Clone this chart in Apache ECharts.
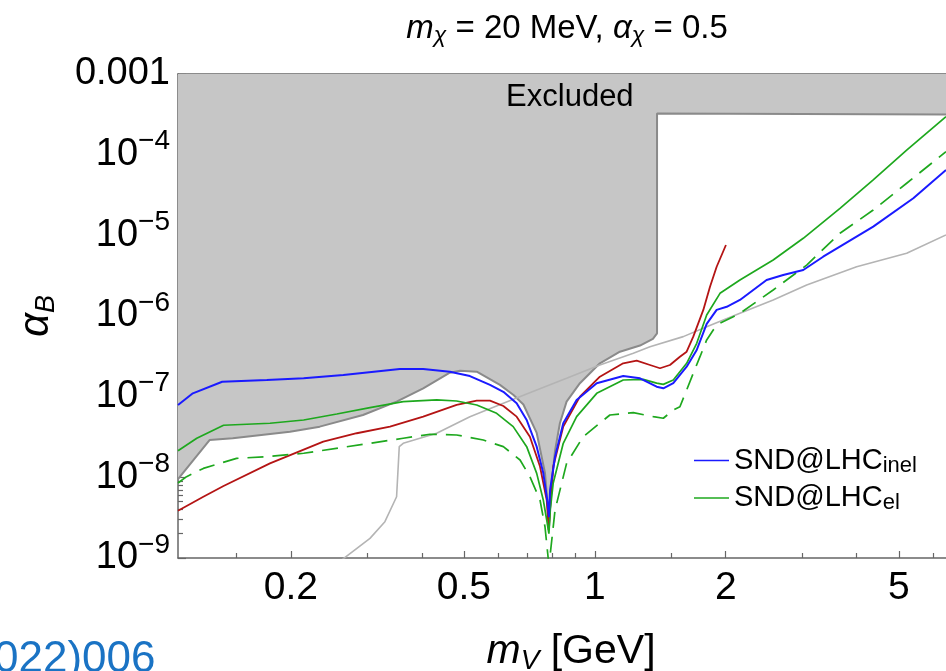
<!DOCTYPE html>
<html>
<head>
<meta charset="utf-8">
<script src="https://cdn.jsdelivr.net/npm/echarts@6/dist/echarts.min.js"></script>
<style>
  html, body { margin: 0; padding: 0; background: #ffffff; }
  #chart { width: 946px; height: 671px; }
</style>
</head>
<body>
<div id="chart"></div>
<script>
const FONT = '"Liberation Sans", Arial, Helvetica, sans-serif';

// Axis ranges: m_V in GeV (x), alpha_B (y), both logarithmic
const xRange = [0.11, 6.42];
const yRange = [1e-9, 1e-3];
const xMajorTicks = [0.2, 0.5, 1, 2, 5];
const xMinorTicks = [0.15, 0.3, 0.4, 0.6, 0.7, 0.8, 0.9, 1.5, 3, 4, 6];
const yMajorTicks = [1e-9, 1e-8, 1e-7, 1e-6, 1e-5, 1e-4, 1e-3];
const yMinorSteps = [2, 3, 4, 5, 6, 7, 8, 9];

// Lower edge of the excluded (shaded) region
const excludedEdge = [
  [0.110, 9.5e-9], [0.130, 2.9e-8], [0.147, 3.05e-8], [0.199, 3.68e-8], [0.233, 4.25e-8],
  [0.293, 5.93e-8], [0.350, 8.67e-8], [0.403, 1.27e-7], [0.464, 1.98e-7], [0.490, 2.10e-7],
  [0.535, 2.04e-7], [0.605, 1.40e-7], [0.650, 1.05e-7], [0.685, 8.0e-8], [0.735, 3.55e-8],
  [0.768, 1.13e-8], [0.779, 4.5e-9], [0.785, 2.5e-9], [0.791, 5.5e-9], [0.797, 9.3e-9],
  [0.810, 2.14e-8], [0.831, 4.68e-8], [0.861, 8.67e-8], [0.924, 1.47e-7], [1.027, 2.59e-7],
  [1.142, 3.61e-7], [1.27, 4.3e-7], [1.36, 5.2e-7], [1.39, 6.1e-7], [1.39, 3.24e-4],
  [6.42, 3.15e-4]
];

// SND@LHC, inelastic signature (blue)
const sndInel = [
  [0.110, 7.9e-8], [0.119, 1.10e-7], [0.139, 1.53e-7], [0.176, 1.61e-7], [0.214, 1.69e-7],
  [0.264, 1.86e-7], [0.356, 2.21e-7], [0.403, 2.21e-7], [0.464, 2.04e-7], [0.516, 1.80e-7],
  [0.574, 1.40e-7], [0.616, 1.15e-7], [0.661, 8.28e-8], [0.697, 5.14e-8], [0.735, 2.40e-8],
  [0.761, 1.13e-8], [0.778, 5.0e-9], [0.784, 3.2e-9], [0.789, 6.97e-9], [0.810, 1.80e-8],
  [0.846, 4.68e-8], [0.908, 9.10e-8], [1.010, 1.47e-7], [1.162, 1.80e-7], [1.270, 1.69e-7],
  [1.387, 1.33e-7], [1.437, 1.27e-7], [1.515, 1.47e-7], [1.626, 2.35e-7], [1.715, 3.79e-7],
  [1.808, 8.0e-7], [1.906, 1.19e-6], [2.010, 1.30e-6], [2.156, 1.58e-6], [2.483, 2.79e-6],
  [2.711, 3.22e-6], [3.015, 3.72e-6], [3.350, 5.43e-6], [4.367, 1.28e-5], [5.400, 2.88e-5],
  [6.42, 6.46e-5]
];

// SND@LHC, elastic signature (green, solid)
const sndEl = [
  [0.110, 2.14e-8], [0.1215, 3.05e-8], [0.140, 4.42e-8], [0.179, 4.68e-8], [0.214, 5.14e-8],
  [0.255, 6.10e-8], [0.304, 7.30e-8], [0.3625, 8.67e-8], [0.433, 9.10e-8], [0.481, 8.84e-8],
  [0.535, 7.89e-8], [0.5945, 6.22e-8], [0.649, 4.25e-8], [0.697, 2.40e-8], [0.735, 1.12e-8],
  [0.761, 5.24e-9], [0.775, 2.96e-9], [0.784, 2.0e-9], [0.790, 4.0e-9], [0.802, 8.43e-9],
  [0.846, 2.64e-8], [0.908, 5.65e-8], [1.010, 1.10e-7], [1.162, 1.61e-7], [1.292, 1.64e-7],
  [1.387, 1.47e-7], [1.437, 1.42e-7], [1.515, 1.61e-7], [1.626, 2.59e-7], [1.715, 4.59e-7],
  [1.808, 1.03e-6], [1.940, 1.91e-6], [2.156, 2.79e-6], [2.571, 4.94e-6], [3.015, 9.19e-6],
  [3.662, 2.16e-5], [4.367, 4.86e-5], [5.213, 1.14e-4], [6.42, 2.96e-4]
];

// SND@LHC, elastic signature, alternative estimate (green, dashed)
const sndElAlt = [
  [0.110, 8.51e-9], [0.1151, 1.02e-8], [0.1258, 1.29e-8], [0.150, 1.72e-8], [0.176, 1.80e-8],
  [0.214, 1.99e-8], [0.304, 2.64e-8], [0.3625, 3.05e-8], [0.4176, 3.42e-8], [0.481, 3.35e-8],
  [0.554, 2.90e-8], [0.616, 2.40e-8], [0.673, 1.64e-8], [0.709, 1.02e-8], [0.748, 5.24e-9],
  [0.768, 2.44e-9], [0.781, 1.0e-9], [0.785, 6.0e-10], [0.7885, 1.04e-9], [0.810, 3.94e-9],
  [0.861, 1.49e-8], [0.940, 3.19e-8], [1.083, 5.93e-8], [1.226, 6.33e-8], [1.363, 5.65e-8],
  [1.437, 5.40e-8], [1.515, 6.84e-8], [1.569, 7.51e-8], [1.626, 1.21e-7], [1.684, 1.95e-7],
  [1.745, 3.13e-7], [1.808, 5.05e-7], [1.872, 6.71e-7], [1.940, 8.12e-7], [2.081, 9.81e-7],
  [2.156, 1.08e-6], [2.571, 2.10e-6], [3.070, 4.28e-6], [3.662, 1.06e-5], [4.367, 2.06e-5],
  [5.213, 4.42e-5], [6.42, 1.09e-4]
];

// Dark red limit curve (ends at 2 GeV)
const curveRed = [
  [0.110, 3.86e-9], [0.1258, 5.75e-9], [0.140, 7.81e-9], [0.179, 1.49e-8], [0.2374, 2.77e-8],
  [0.2834, 3.52e-8], [0.338, 4.25e-8], [0.403, 5.65e-8], [0.481, 7.89e-8], [0.535, 8.92e-8],
  [0.574, 8.92e-8], [0.616, 7.66e-8], [0.661, 5.65e-8], [0.709, 3.19e-8], [0.748, 1.36e-8],
  [0.775, 5.24e-9], [0.783, 2.22e-9], [0.7885, 3.94e-9], [0.8024, 1.36e-8], [0.846, 4.25e-8],
  [0.924, 1.00e-7], [1.027, 1.77e-7], [1.162, 2.59e-7], [1.248, 2.79e-7], [1.339, 2.47e-7],
  [1.412, 2.25e-7], [1.4885, 2.47e-7], [1.569, 3.13e-7], [1.626, 3.61e-7], [1.684, 5.55e-7],
  [1.776, 1.19e-6], [1.840, 2.31e-6], [1.906, 4.08e-6], [2.002, 7.59e-6]
];

// Light grey limit curve
const curveGrey = [
  [0.262, 9.5e-10], [0.304, 1.75e-9], [0.329, 2.82e-9], [0.350, 5.75e-9], [0.355, 2.40e-8],
  [0.3625, 2.64e-8], [0.4327, 3.52e-8], [0.516, 5.65e-8], [0.616, 8.28e-8], [0.735, 1.21e-7],
  [0.861, 1.69e-7], [1.027, 2.47e-7], [1.226, 3.45e-7], [1.339, 4.17e-7], [1.597, 5.55e-7],
  [1.808, 7.37e-7], [2.156, 1.08e-6], [2.571, 1.58e-6], [3.070, 2.42e-6], [4.000, 4.08e-6],
  [5.213, 5.99e-6], [6.42, 1.01e-5]
];

const yMinorTicks = [];
yMajorTicks.slice(0, -1).forEach(d => yMinorSteps.forEach(k => yMinorTicks.push(+(d * k).toPrecision(3))));

const AXIS_COLOR = '#666666';

function yTickLabel(v) {
  const e = Math.round(Math.log10(v));
  if (e === -3) return '0.001';
  return '{b|10}{sup|\u2212' + (-e) + '}';
}

function xAxisDef(position, ticks, len, withLabels, withLine) {
  return {
    type: 'log', position: position, min: xRange[0], max: xRange[1],
    axisLine: { show: withLine, onZero: false, lineStyle: { color: AXIS_COLOR, width: 1.5 } },
    axisTick: { show: true, inside: true, length: len, customValues: ticks,
                lineStyle: { color: AXIS_COLOR, width: 1.2 } },
    axisLabel: withLabels ? {
      show: true, customValues: ticks, margin: 8, color: '#000',
      fontFamily: FONT, fontSize: 39, lineHeight: 44,
      formatter: v => String(+v.toPrecision(3))
    } : { show: false },
    splitLine: { show: false }, minorTick: { show: false }
  };
}

function yAxisDef(ticks, len, withLabels, withLine) {
  return {
    type: 'log', position: 'left', min: yRange[0], max: yRange[1],
    axisLine: { show: withLine, onZero: false, lineStyle: { color: AXIS_COLOR, width: 1.5 } },
    axisTick: { show: true, inside: true, length: len, customValues: ticks,
                lineStyle: { color: AXIS_COLOR, width: 1.2 } },
    axisLabel: withLabels ? {
      show: true, customValues: ticks, margin: 8, color: '#000',
      fontFamily: FONT, fontSize: 38, lineHeight: 54,
      formatter: yTickLabel,
      rich: {
        b: { fontFamily: FONT, fontSize: 38, lineHeight: 54, color: '#000' },
        sup: { fontFamily: FONT, fontSize: 28, lineHeight: 28, verticalAlign: 'top', color: '#000' }
      }
    } : { show: false },
    splitLine: { show: false }, minorTick: { show: false }
  };
}

const chart = echarts.init(document.getElementById('chart'), null, { renderer: 'canvas' });

const xMain = xAxisDef('bottom', xMajorTicks, 7, true, true);
xMain.name = '{i|m}{sub|V}{n| [GeV]}';
xMain.nameLocation = 'middle';
xMain.nameGap = 71;
xMain.nameTextStyle = {
  fontFamily: FONT, fontSize: 41, color: '#000', padding: [0, 0, 0, 18],
  rich: {
    i: { fontFamily: FONT, fontSize: 41, fontStyle: 'italic', lineHeight: 46, color: '#000' },
    sub: { fontFamily: FONT, fontSize: 28, fontStyle: 'italic', lineHeight: 22, verticalAlign: 'bottom', color: '#000' },
    n: { fontFamily: FONT, fontSize: 41, lineHeight: 46, color: '#000' }
  }
};

const yMain = yAxisDef(yMajorTicks, 8, true, true);
yMain.name = '{i|\u03b1}{sub|B}';
yMain.nameLocation = 'middle';
yMain.nameGap = 118;
yMain.nameTextStyle = {
  fontFamily: FONT, fontSize: 42, color: '#000',
  rich: {
    i: { fontFamily: FONT, fontSize: 42, fontStyle: 'italic', lineHeight: 48, color: '#000' },
    sub: { fontFamily: FONT, fontSize: 27, fontStyle: 'italic', lineHeight: 22, verticalAlign: 'bottom', color: '#000' }
  }
};

function lineSeries(name, data, color, width, z, extra) {
  return Object.assign({
    name: name, type: 'line', data: data, xAxisIndex: 0, yAxisIndex: 0,
    symbol: 'none', smooth: false, clip: true, z: z, silent: true,
    lineStyle: { color: color, width: width },
    itemStyle: { color: color }
  }, extra || {});
}

chart.setOption({
  animation: false,
  backgroundColor: '#ffffff',
  title: {
    text: '{i|m}{sub|\u03c7}{n| = 20 MeV, }{i|\u03b1}{sub|\u03c7}{n| = 0.5}',
    left: 567, top: 11, textAlign: 'center', padding: 0,
    textStyle: {
      fontFamily: FONT, fontSize: 33, fontWeight: 'normal', color: '#000',
      rich: {
        i: { fontFamily: FONT, fontSize: 33, fontStyle: 'italic', lineHeight: 36, color: '#000' },
        sub: { fontFamily: FONT, fontSize: 23, fontStyle: 'italic', lineHeight: 18, verticalAlign: 'bottom', color: '#000' },
        n: { fontFamily: FONT, fontSize: 33, lineHeight: 36, color: '#000' }
      }
    }
  },
  grid: { left: 178, right: 0, top: 74, bottom: 113, containLabel: false, outerBoundsMode: 'none' },
  xAxis: [
    xMain,
    xAxisDef('bottom', xMinorTicks, 5, false, false),
    xAxisDef('top', xMajorTicks, 7, false, true),
    xAxisDef('top', xMinorTicks, 5, false, false)
  ],
  yAxis: [
    yMain,
    yAxisDef(yMinorTicks, 5, false, false)
  ],
  legend: {
    orient: 'vertical', left: 689, top: 441, itemGap: 7,
    itemWidth: 35, itemHeight: 1.6, icon: 'rect',
    selectedMode: false,
    data: ['SND@LHC_inel', 'SND@LHC_el'],
    formatter: n => { const p = n.split('_'); return '{m|' + p[0] + '}{s|' + p[1] + '}'; },
    textStyle: {
      fontFamily: FONT, fontSize: 29, color: '#000',
      rich: {
        m: { fontFamily: FONT, fontSize: 29, lineHeight: 32, color: '#000' },
        s: { fontFamily: FONT, fontSize: 22, lineHeight: 16, verticalAlign: 'bottom', color: '#000' }
      }
    }
  },
  series: [
    lineSeries('excluded', excludedEdge, '#8a8a8a', 2, 1, {
      areaStyle: { origin: 'end', color: '#c6c6c6', opacity: 1 }
    }),
    lineSeries('grey', curveGrey, '#b4b4b4', 1.6, 2),
    lineSeries('red', curveRed, '#b41414', 1.8, 3),
    lineSeries('SND@LHC_el_alt', sndElAlt, '#1ea81e', 1.7, 4, {
      lineStyle: { color: '#1ea81e', width: 1.7, type: [16, 9] }
    }),
    lineSeries('SND@LHC_el', sndEl, '#1ea81e', 1.7, 5),
    lineSeries('SND@LHC_inel', sndInel, '#1a1aff', 2, 6)
  ]
});

// Region label and the cut-off reference text
const excludedLabelAt = chart.convertToPixel({ xAxisIndex: 0, yAxisIndex: 0 }, [0.876, 5.19e-4]);
chart.setOption({
  graphic: [
    {
      type: 'text', x: excludedLabelAt[0], y: excludedLabelAt[1], z: 100,
      style: { text: 'Excluded', fill: '#000', font: '31px ' + FONT, align: 'center', verticalAlign: 'middle' }
    },
    {
      type: 'text', x: -6, y: 638, z: 100,
      style: { text: '022)006', fill: '#1a73c4', font: '44px ' + FONT, align: 'left', verticalAlign: 'top' }
    }
  ]
});
</script>
</body>
</html>
